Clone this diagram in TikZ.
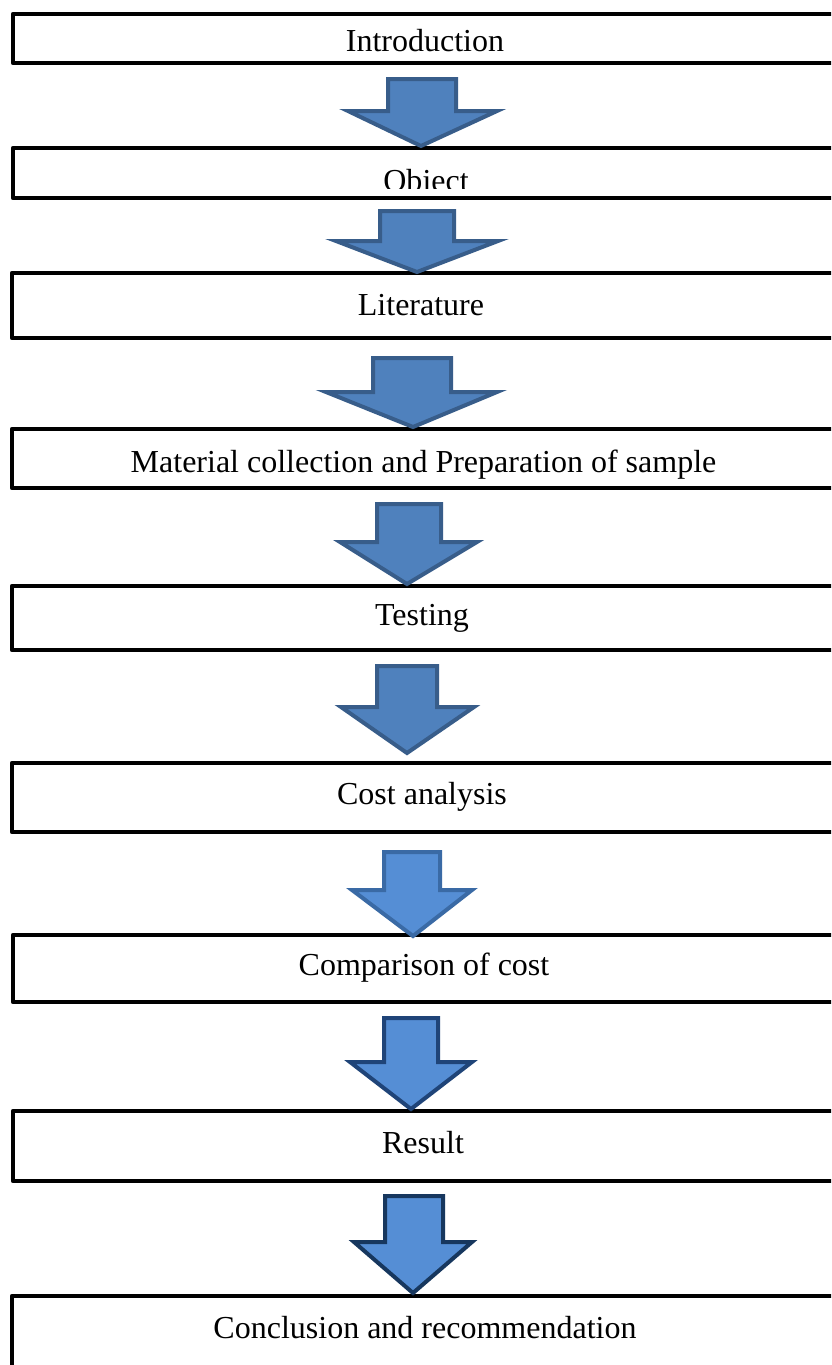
\documentclass[tikz,border=0pt]{standalone}
\usepackage{fontspec}
\setmainfont{Liberation Serif}
\begin{document}
\begin{tikzpicture}[x=1pt,y=-1pt,
  box/.style={draw=black,line width=4.2pt,line join=round,rectangle,inner sep=0pt,minimum width=822pt},
  lbl/.style={font=\fontsize{32}{36}\selectfont,inner sep=0pt,anchor=base},
  barrowA/.style={fill=arrA,draw=arrAline,line width=4pt,line join=miter},
  barrowB/.style={fill=arrB,draw=arrBline,line width=4pt,line join=miter},
  barrowC/.style={fill=arrB,draw=arrCline,line width=4pt,line join=miter},
  barrowD/.style={fill=arrB,draw=arrDline,line width=4pt,line join=miter}]
\definecolor{arrA}{HTML}{4F81BD}
\definecolor{arrAline}{HTML}{385D8A}
\definecolor{arrB}{HTML}{558ED5}
\definecolor{arrBline}{HTML}{3A6AA5}
\definecolor{arrCline}{HTML}{1F4478}
\definecolor{arrDline}{HTML}{17375E}
\useasboundingbox (0,0) rectangle (831,1365);
\clip (0,0) rectangle (831,1365);
\fill[white] (0,0) rectangle (831,1365);
% boxes
\node[box,minimum height=49pt] (b1) at (424,38.5) {};
\node[box,minimum height=50pt] (b2) at (424,173) {};
\node[box,minimum height=65pt] (b3) at (423,305.5) {};
\node[box,minimum height=59pt] (b4) at (423,458.5) {};
\node[box,minimum height=64pt] (b5) at (423,618) {};
\node[box,minimum height=69pt] (b6) at (423,797.5) {};
\node[box,minimum height=67pt] (b7) at (424,968.5) {};
\node[box,minimum height=70pt] (b8) at (424,1146) {};
\node[box,minimum height=120pt] (b9) at (423,1356) {};
% labels
\node[lbl] (t1) at (425,51) {Introduction};
\begin{scope}
  \clip (0,150) rectangle (831,188);
  \node[lbl] (t2) at (426,191) {Object};
\end{scope}
\node[lbl] (t3) at (421,315) {Literature};
\node[lbl] (t4) at (423.5,472) {Material collection and Preparation of sample};
\node[lbl] (t5) at (422,625) {Testing};
\node[lbl] (t6) at (422,804) {Cost analysis};
\node[lbl] (t7) at (424,975) {Comparison of cost};
\node[lbl] (t8) at (423,1153) {Result};
\node[lbl] (t9) at (425,1338) {Conclusion and recommendation};
% block arrows (tip on top edge of next box)
\draw[barrowA] (388,79) -- (456,79) -- (456,111) -- (497,111) -- (421,146) -- (348,111) -- (388,111) -- cycle;
\draw[barrowA] (380,211) -- (454,211) -- (454,241) -- (498,241) -- (417,272) -- (336,241) -- (380,241) -- cycle;
\draw[barrowA] (373,358) -- (451,358) -- (451,392) -- (497,392) -- (413,427) -- (326,392) -- (373,392) -- cycle;
\draw[barrowA] (377,504) -- (441,504) -- (441,542) -- (477,542) -- (407,584) -- (340,542) -- (377,542) -- cycle;
\draw[barrowA] (377,666) -- (437,666) -- (437,707) -- (474,707) -- (407,753) -- (341,707) -- (377,707) -- cycle;
\draw[barrowB] (384,852) -- (440,852) -- (440,890) -- (472,890) -- (413,936) -- (352,890) -- (384,890) -- cycle;
\draw[barrowC] (384,1018) -- (438,1018) -- (438,1062) -- (472,1062) -- (411,1109) -- (350,1062) -- (384,1062) -- cycle;
\draw[barrowD] (385,1196) -- (443,1196) -- (443,1242) -- (472,1242) -- (413,1293) -- (354,1242) -- (385,1242) -- cycle;
\end{tikzpicture}
\end{document}
